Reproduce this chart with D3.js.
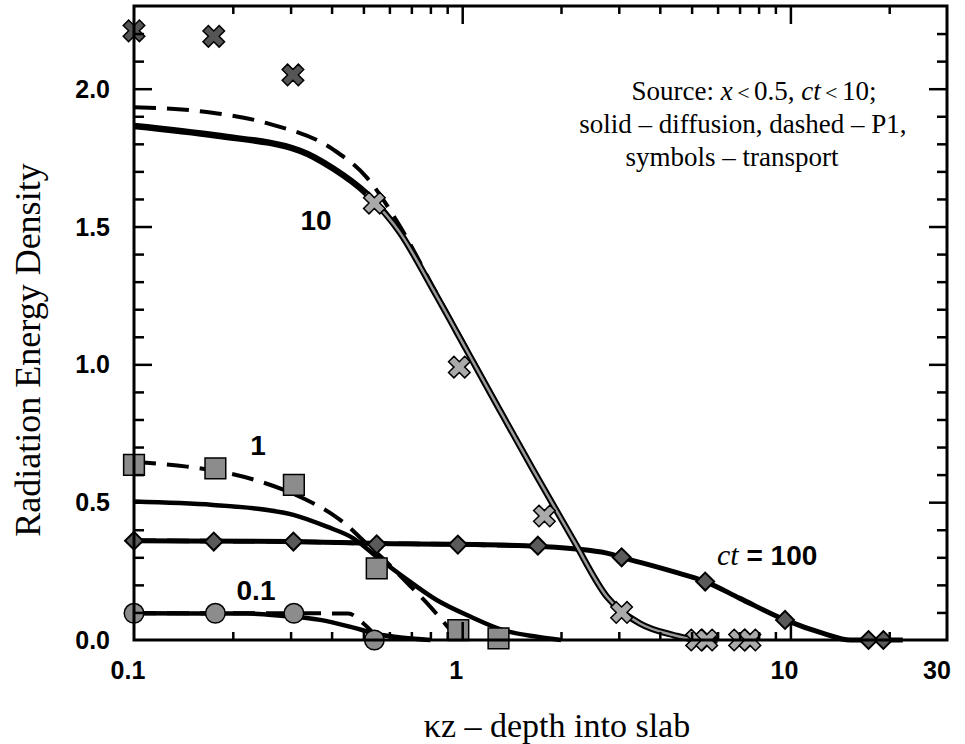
<!DOCTYPE html>
<html>
<head>
<meta charset="utf-8">
<script src="https://cdn.jsdelivr.net/npm/d3@7"></script>
<style>
  body { margin: 0; background: #fff; }
  svg { display: block; }
  .tick-lab { font-family: "Liberation Sans", Arial, sans-serif; font-weight: bold; font-size: 25px; }
  .serif { font-family: "Liberation Serif", "Times New Roman", serif; }
</style>
</head>
<body>
<div id="chart"></div>
<script>
/* tick values */
var xMajor = [0.1, 1, 10, 30];
var xMinor = [0.2, 0.3, 0.4, 0.5, 0.6, 0.7, 0.8, 0.9, 2, 3, 4, 5, 6, 7, 8, 9, 20];
var xTopMajor = [1, 10];
var yMajor = [0, 0.5, 1.0, 1.5, 2.0];
var yMinor = [0.1, 0.2, 0.3, 0.4, 0.6, 0.7, 0.8, 0.9, 1.1, 1.2, 1.3, 1.4, 1.6, 1.7, 1.8, 1.9, 2.1, 2.2];

/* ct = 0.1 */
var ct01Solid = [[0.1, 0.097], [0.22, 0.096], [0.28, 0.088], [0.369, 0.073], [0.466, 0.045], [0.549, 0.022], [0.66, 0.008], [0.8, 0]];
var ct01Dash = [[0.1, 0.097], [0.3, 0.097], [0.45, 0.096], [0.5, 0.06], [0.56, 0]];
var ct01Sym = [[0.1, 0.097], [0.177, 0.097], [0.307, 0.097], [0.54, 0]];

/* ct = 1 */
var ct1Solid = [[0.1, 0.502], [0.174, 0.49], [0.231, 0.478], [0.306, 0.454], [0.387, 0.411], [0.466, 0.369], [0.549, 0.302], [0.66, 0.23], [0.836, 0.145], [1.058, 0.085], [1.33, 0.036], [1.69, 0.012], [2.0, 0]];
var ct1Dash = [[0.1, 0.647], [0.145, 0.629], [0.183, 0.611], [0.242, 0.575], [0.336, 0.508], [0.404, 0.454], [0.455, 0.407], [0.49, 0.37], [0.58, 0.29], [0.676, 0.21], [0.73, 0.17], [0.8, 0.12], [0.866, 0.073], [0.94, 0.025], [1.0, 0]];
var ct1Sym = [[0.1, 0.635], [0.177, 0.623], [0.307, 0.563], [0.549, 0.26], [0.973, 0.036], [1.29, 0.006]];

/* ct = 10 */
var ct10Solid = [[0.1, 1.865], [0.178, 1.83], [0.32, 1.775], [0.405, 1.71], [0.51, 1.62], [0.647, 1.477], [0.816, 1.27], [1.03, 1.053], [1.30, 0.835], [1.645, 0.617], [2.18, 0.363], [2.76, 0.157], [3.48, 0.06], [4.4, 0.018], [5.3, 0], [6, 0]];
var ct10Dash = [[0.1, 1.933], [0.159, 1.918], [0.254, 1.875], [0.405, 1.779], [0.51, 1.68], [0.647, 1.50], [0.816, 1.28], [1.03, 1.06], [1.30, 0.84], [1.645, 0.62], [2.18, 0.36], [2.76, 0.16], [3.48, 0.06], [4.4, 0.018], [5.3, 0]];
var ct10Sym = [[0.1, 2.21], [0.175, 2.19], [0.305, 2.05], [0.54, 1.585], [0.98, 0.99], [1.78, 0.45], [3.06, 0.10], [5.18, 0], [5.56, 0], [7.0, 0], [7.53, 0]];

/* ct = 100 */
var ct100Solid = [[0.1, 0.36], [0.3, 0.357], [0.55, 0.35], [1.0, 0.347], [1.73, 0.339], [2.76, 0.315], [3.06, 0.30], [4.4, 0.248], [5.5, 0.212], [7.02, 0.151], [9.63, 0.073], [12.6, 0.024], [15.2, 0], [22, 0]];
var ct100Dash = [[0.1, 0.36], [0.3, 0.357], [0.55, 0.35], [1.0, 0.347], [1.73, 0.339]];
var ct100Sym = [[0.1, 0.36], [0.175, 0.357], [0.306, 0.357], [0.549, 0.347], [0.97, 0.346], [1.70, 0.342], [3.06, 0.30], [5.5, 0.212], [9.63, 0.073], [17.3, 0], [19.2, 0]];

var W = 965, H = 744;
var plot = {left: 134, right: 947, top: 6, bottom: 640};

var svg = d3.select("#chart").append("svg")
  .attr("width", W)
  .attr("height", H);

var x = d3.scaleLog().domain([0.1, 30]).range([plot.left, plot.right]);
var y = d3.scaleLinear().domain([0, 2.3]).range([plot.bottom, plot.top]);

var line = d3.line()
  .x(function(d) { return x(d[0]); })
  .y(function(d) { return y(d[1]); })
  .curve(d3.curveMonotoneX);

/* curves */
function drawLine(data, width, dash, color) {
  var p = svg.append("path")
    .datum(data)
    .attr("fill", "none")
    .attr("stroke", color || "#000")
    .attr("stroke-width", width)
    .attr("stroke-linejoin", "round")
    .attr("d", line);
  if (dash) p.attr("stroke-dasharray", dash);
  return p;
}

drawLine(ct100Dash, 4.5, "22,11");
drawLine(ct100Solid, 5);
drawLine(ct01Dash, 4, "22,11");
drawLine(ct01Solid, 4.5);
drawLine(ct1Dash, 4, "22,11");
drawLine(ct1Solid, 4.5);
drawLine(ct10Dash, 4, "22,11");
drawLine(ct10Solid, 6.5);
/* grey core of the thick ct = 10 band */
drawLine(ct10Solid.filter(function(d) { return d[0] > 0.45; }), 2.5, null, "#9a9a9a");

/* symbols */
function drawSymbols(data, type, size, rot, fill, sw) {
  svg.append("g").selectAll("path")
    .data(data)
    .enter().append("path")
    .attr("d", d3.symbol().type(type).size(size))
    .attr("transform", function(d) {
      return "translate(" + x(d[0]) + "," + y(d[1]) + ") rotate(" + rot + ")";
    })
    .attr("fill", fill)
    .attr("stroke", "#000")
    .attr("stroke-width", sw);
}

drawSymbols(ct01Sym, d3.symbolCircle, 300, 0, "#8c8c8c", 1.5);
drawSymbols(ct1Sym, d3.symbolSquare, 430, 0, "#8c8c8c", 1.5);
drawSymbols(ct100Sym, d3.symbolSquare, 160, 45, "#5a5a5a", 2);
drawSymbols(ct10Sym.slice(0, 3), d3.symbolCross, 290, 45, "#555", 1.5);
drawSymbols(ct10Sym.slice(3), d3.symbolCross, 290, 45, "#aaa", 1.5);

/* axes frame */
svg.append("rect")
  .attr("x", plot.left).attr("y", plot.top)
  .attr("width", plot.right - plot.left)
  .attr("height", plot.bottom - plot.top)
  .attr("fill", "none")
  .attr("stroke", "#000")
  .attr("stroke-width", 3);

function ticks(axisFn, scale, vals, size, tx, ty) {
  svg.append("g")
    .attr("transform", "translate(" + tx + "," + ty + ")")
    .call(axisFn(scale).tickValues(vals).tickSize(size).tickFormat(""))
    .call(function(g) {
      g.select(".domain").remove();
      g.selectAll("line").attr("stroke-width", 2.5);
    });
}

/* ticks point inward */
ticks(d3.axisBottom, x, xMajor.slice(1, 3), -18, 0, plot.bottom);
ticks(d3.axisBottom, x, xMinor, -8, 0, plot.bottom);
ticks(d3.axisTop, x, xTopMajor, -18, 0, plot.top);
ticks(d3.axisTop, x, xMinor, -8, 0, plot.top);
ticks(d3.axisLeft, y, yMajor.slice(1), -18, plot.left, 0);
ticks(d3.axisLeft, y, yMinor, -10, plot.left, 0);
ticks(d3.axisRight, y, yMajor.slice(1), -18, plot.right, 0);
ticks(d3.axisRight, y, yMinor, -10, plot.right, 0);

/* tick labels */
svg.append("g").selectAll("text")
  .data(xMajor)
  .enter().append("text")
  .attr("class", "tick-lab")
  .attr("x", function(d) { return x(d) - (d === 30 ? 10 : 6); })
  .attr("y", 679)
  .attr("text-anchor", "middle")
  .text(function(d) { return d3.format("")(d); });

svg.append("g").selectAll("text")
  .data(yMajor)
  .enter().append("text")
  .attr("class", "tick-lab")
  .attr("x", 110)
  .attr("y", function(d) { return y(d) + 9; })
  .attr("text-anchor", "end")
  .text(function(d) { return d3.format(".1f")(d); });

/* axis titles */
svg.append("text")
  .attr("class", "serif")
  .attr("transform", "translate(40,350) rotate(-90)")
  .attr("text-anchor", "middle")
  .style("font-size", "36px")
  .text("Radiation Energy Density");

svg.append("text")
  .attr("class", "serif")
  .attr("x", 557)
  .attr("y", 737)
  .attr("text-anchor", "middle")
  .style("font-size", "34px")
  .text("\u03bAz \u2013 depth into slab");

/* curve labels */
var curveLab = [["10", 316, 230], ["1", 258, 455], ["0.1", 256, 600]];
svg.append("g").selectAll("text")
  .data(curveLab)
  .enter().append("text")
  .attr("class", "tick-lab")
  .style("font-size", "28px")
  .attr("x", function(d) { return d[1]; })
  .attr("y", function(d) { return d[2]; })
  .attr("text-anchor", "middle")
  .text(function(d) { return d[0]; });

var ctLab = svg.append("text")
  .attr("x", 717)
  .attr("y", 565);
ctLab.append("tspan")
  .attr("class", "serif")
  .style("font-style", "italic")
  .style("font-size", "30px")
  .text("ct");
ctLab.append("tspan")
  .attr("class", "tick-lab")
  .style("font-size", "28px")
  .text(" = 100");

/* note in upper right */
var note = svg.append("g")
  .attr("class", "serif")
  .attr("text-anchor", "middle")
  .style("font-size", "27px");

var l1 = note.append("text").attr("x", 754).attr("y", 100);
l1.append("tspan").text("Source: ");
l1.append("tspan").style("font-style", "italic").text("x");
l1.append("tspan").style("font-size", "22px").text("\u2009<\u2009");
l1.append("tspan").text("0.5, ");
l1.append("tspan").style("font-style", "italic").text("ct");
l1.append("tspan").style("font-size", "22px").text("\u2009<\u2009");
l1.append("tspan").text("10;");

note.append("text").attr("x", 743).attr("y", 133)
  .text("solid \u2013 diffusion, dashed \u2013 P1,");
note.append("text").attr("x", 732).attr("y", 166)
  .text("symbols \u2013 transport");
</script>
</body>
</html>
